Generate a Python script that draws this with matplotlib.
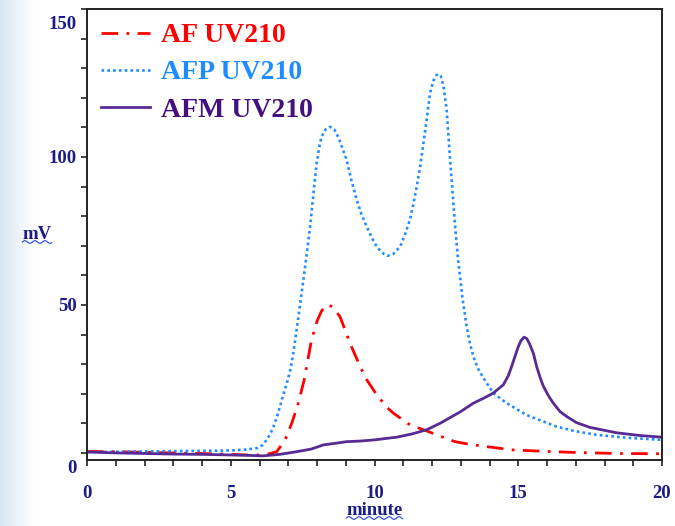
import numpy as np
import matplotlib
matplotlib.use('Agg')
import matplotlib.pyplot as plt
from matplotlib.ticker import MultipleLocator
from matplotlib.colors import LinearSegmentedColormap
from matplotlib.transforms import ScaledTranslation

# chromatogram traces (minute, mV)
af_t = [0, 1, 2, 3, 4, 5, 5.55, 6.0, 6.3, 6.6, 6.89, 7.12, 7.35, 7.55, 7.81, 8.0, 8.15,
        8.3, 8.4, 8.55, 8.8, 9.0, 9.15, 9.5, 9.73, 10.08, 10.42, 10.66, 11.23, 11.82,
        12.3, 12.8, 13.3, 14.0, 14.8, 16.0, 17.1, 18.5, 20]
af_mv = [0.5, 0.4, 0.2, 0.0, -0.2, -0.5, -0.7, -0.7, -0.4, 0.4, 4.4, 10, 16.8, 24.5, 38.2,
         44.5, 47.8, 49.8, 50, 49.3, 46, 41, 37, 29.2, 24.7, 19.6, 15.5, 13.4, 9.5, 7.4,
         5.6, 3.8, 2.9, 2.0, 1.0, 0.5, 0.1, -0.2, -0.3]

afp_t = [0, 1, 2, 3, 4, 4.97, 5.5, 5.9, 6.1, 6.25, 6.37, 6.48, 6.6, 6.71, 6.83, 6.95,
         7.06, 7.18, 7.29, 7.41, 7.52, 7.64, 7.76, 7.88, 7.99, 8.08, 8.16, 8.3, 8.45,
         8.6, 8.75, 8.9, 9.03, 9.2, 9.38, 9.55, 9.73, 9.9, 10.08, 10.25, 10.45, 10.65,
         10.89, 11.05, 11.23, 11.35, 11.47, 11.6, 11.7, 11.82, 11.93, 12.05, 12.15,
         12.22, 12.3, 12.4, 12.51, 12.63, 12.72, 12.8, 12.9, 12.97, 13.05, 13.2, 13.32,
         13.44, 13.6, 13.79, 14.13, 14.6, 15.29, 16.33, 17.0, 17.73, 18.8, 20]
afp_mv = [0.3, 0.4, 0.5, 0.6, 0.7, 0.8, 1.1, 1.6, 2.6, 4.4, 6.3, 8.7, 12, 15.6, 19.8, 23.5,
          27.5, 34, 41.5, 50, 58, 67, 76.5, 88, 98, 103.5, 106.9, 109.3, 110.2,
          109.3, 106.5, 102.5, 99, 92, 85.5, 80.5, 76.5, 72.8, 69.7, 67.7, 66.6, 67.2,
          69.7, 73.5, 78.7, 84, 90, 97.5, 104.6, 113, 121.5, 125.8, 127.6,
          128, 127.5, 124, 115.9, 99, 87.5, 77, 66, 60, 53, 43, 37,
          32.5, 28.5, 25.3, 20.2, 16.8, 12.8, 8.9, 7.3, 6.1, 5.1, 4.4]

afm_t = [0, 1, 2, 3, 4, 5, 5.5, 6.13, 6.7, 7.29, 7.8, 8.22, 8.6, 9.03, 9.5, 10.0, 10.5,
         10.77, 11.3, 11.81, 12.28, 12.97, 13.44, 13.8, 14.13, 14.48, 14.65, 14.77, 14.9,
         15.0, 15.1, 15.2, 15.3, 15.41, 15.53, 15.64, 15.76, 15.87, 16.05, 16.22, 16.45,
         16.7, 17.03, 17.5, 18.42, 19.2, 20]
afm_mv = [0.3, 0.0, -0.2, -0.4, -0.5, -0.7, -0.8, -1.0, -0.5, 0.4, 1.3, 2.7, 3.2, 3.8,
          4.0, 4.4, 5.0, 5.3, 6.4, 7.8, 10, 13.8, 16.8, 18.5, 20.2, 23, 26, 29.2, 33,
          35.9, 38, 39.1, 38.6, 36.5, 33.5, 29.2, 25.5, 22.6, 19.3, 16.8, 14.0,
          12.2, 10.2, 8.6, 6.8, 5.9, 5.3]

labels = ['AF UV210', 'AFP UV210', 'AFM UV210']
x_ticks = [0, 5, 10, 15, 20]
y_ticks = [0, 50, 100, 150]

navy = '#1c1c86'
red = '#ff0000'
blue = '#1e8cff'
purple = '#572a94'
purple_txt = '#43107f'

plt.rcParams['font.family'] = ['Liberation Serif', 'DejaVu Serif']
plt.rcParams['font.weight'] = 'bold'

fig = plt.figure(figsize=(6.75, 5.26), dpi=100)

# pale slide background on the left edge
bg = fig.add_axes([0, 0, 0.05, 1], zorder=-5)
cmap = LinearSegmentedColormap.from_list('bg', ['#d8e6f4', '#ffffff'])
bg.imshow(np.linspace(0, 1, 100)[None, :], aspect='auto', cmap=cmap, extent=[0, 1, 0, 1])
bg.axis('off')

ax = fig.add_axes([87 / 675, 66 / 526, 575 / 675, 451 / 526])
ax.plot(af_t, af_mv, color=red, lw=2, dashes=(6, 3, 1, 3), label=labels[0])
ax.plot(afp_t, afp_mv, color=blue, lw=1.9, dashes=(1, 1.2), label=labels[1])
ax.plot(afm_t, afm_mv, color=purple, lw=2, label=labels[2])

ax.set_xlim(0, 20)
ax.set_ylim(-2.4, 150)
ax.set_xticks(x_ticks)
ax.set_yticks(y_ticks)
ax.xaxis.set_minor_locator(MultipleLocator(1))
ax.yaxis.set_minor_locator(MultipleLocator(10))
ax.tick_params(which='both', direction='out', length=4, width=1.2, color='#222222',
               labelsize=13.5, labelcolor=navy)
for sp in ax.spines.values():
    sp.set_linewidth(1.4)
    sp.set_color('#222222')
ax.tick_params(axis='x', pad=14)
for lab in ax.get_xticklabels() + ax.get_yticklabels():
    lab.set_fontweight('bold')
ylabs = ax.get_yticklabels()
for lab in [ylabs[0], ylabs[-1]]:
    lab.set_transform(lab.get_transform() + ScaledTranslation(0, -10 / 72, fig.dpi_scale_trans))

ax.set_xlabel('minute', fontsize=13.5, color=navy, labelpad=0, fontweight='bold')
ax.set_ylabel('mV', fontsize=13.5, color=navy, rotation=0, fontweight='bold',
              va='center', ha='center')
ax.yaxis.set_label_coords(-0.087, 0.50)

leg = ax.legend(loc='upper left', bbox_to_anchor=(0.0, 1.0), frameon=False,
                prop={'size': 20, 'weight': 'bold'}, handlelength=1.75,
                handletextpad=0.4, labelspacing=0.42, borderaxespad=0.1)
for txt, c in zip(leg.get_texts(), [red, blue, purple_txt]):
    txt.set_color(c)

# wavy spell-check underline under the axis titles
fig.canvas.draw()
for lab in [ax.xaxis.label, ax.yaxis.label]:
    bb = lab.get_window_extent()
    xs = np.linspace(bb.x0, bb.x1, 80)
    ys = bb.y0 + 1 + 1.3 * np.sin((xs - bb.x0) / 1.6)
    fig.add_artist(plt.Line2D(xs / fig.bbox.width, ys / fig.bbox.height,
                              color='#2244dd', lw=0.8))

plt.savefig('out.png', dpi=100)
